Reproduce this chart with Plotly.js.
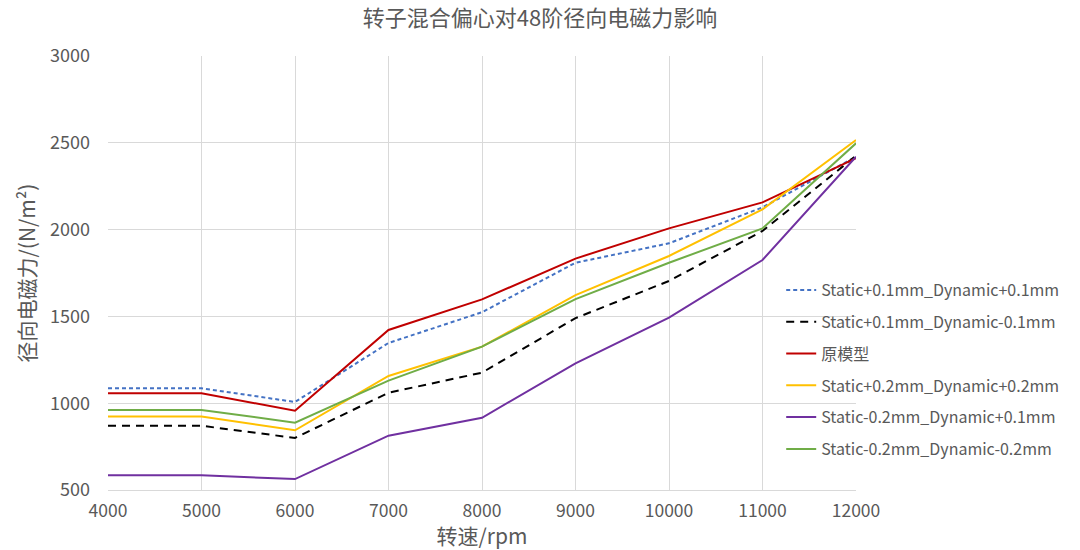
<!DOCTYPE html>
<html>
<head>
<meta charset="utf-8">
<script src="https://cdn.plot.ly/plotly-3.0.1.min.js"></script>
<style>
  html, body { margin: 0; padding: 0; background: #fff; }
  #chart { width: 1080px; height: 550px; }
</style>
</head>
<body>
<div id="chart"></div>
<script>
  const speeds = [4000, 5000, 6000, 7000, 8000, 9000, 10000, 11000, 12000];
  const speedLabels = ['4000', '5000', '6000', '7000', '8000', '9000', '10000', '11000', '12000'];

  const seriesNames = [
    'Static+0.1mm_Dynamic+0.1mm',
    'Static+0.1mm_Dynamic-0.1mm',
    '原模型',
    'Static+0.2mm_Dynamic+0.2mm',
    'Static-0.2mm_Dynamic+0.1mm',
    'Static-0.2mm_Dynamic-0.2mm'
  ];

  const s01d01 = [1086, 1086, 1007, 1347, 1524, 1809, 1921, 2128, 2420];
  const s01dm01 = [870, 870, 800, 1060, 1176, 1490, 1704, 1992, 2425];
  const original = [1057, 1057, 957, 1422, 1598, 1833, 2007, 2157, 2412];
  const s02d02 = [923, 923, 844, 1157, 1326, 1623, 1848, 2117, 2516];
  const sm02d01 = [585, 585, 563, 813, 916, 1230, 1493, 1825, 2420];
  const sm02dm02 = [961, 961, 888, 1130, 1326, 1600, 1809, 2007, 2497];

  const values = [s01d01, s01dm01, original, s02d02, sm02d01, sm02dm02];
  const colors = ['#4472C4', '#000000', '#C00000', '#FFC000', '#7030A0', '#70AD47'];
  const dashes = ['4px,3px', '8px,6px', 'solid', 'solid', 'solid', 'solid'];

  const data = values.map((v, i) => ({
    type: 'scatter',
    mode: 'lines',
    name: seriesNames[i],
    legendgroup: 'g' + i,
    x: speeds,
    y: v,
    line: { color: colors[i], width: 2, dash: dashes[i] }
  }));

  const font = '"Noto Sans CJK SC", sans-serif';

  const layout = {
    width: 1080,
    height: 550,
    margin: { l: 108, r: 224, t: 56, b: 60 },
    paper_bgcolor: '#ffffff',
    plot_bgcolor: '#ffffff',
    font: { family: font, color: '#595959', size: 16 },
    title: {
      text: '转子混合偏心对48阶径向电磁力影响',
      font: { family: font, size: 22, color: '#595959' },
      x: 0.5, xanchor: 'center', y: 0.967, yanchor: 'middle'
    },
    xaxis: {
      range: [4000, 12000],
      tickvals: speeds,
      ticktext: speedLabels,
      ticks: '',
      ticklabelstandoff: 5,
      showgrid: true,
      gridcolor: '#d9d9d9',
      showline: true,
      linecolor: '#d9d9d9',
      zeroline: false,
      tickfont: { size: 17.5, color: '#595959' },
      title: {
        text: '转速/rpm',
        font: { family: font, size: 21, color: '#595959' },
        standoff: 3
      }
    },
    yaxis: {
      range: [500, 3000],
      dtick: 500,
      ticks: '',
      ticklabelstandoff: 17,
      showgrid: true,
      gridcolor: '#d9d9d9',
      showline: false,
      zeroline: false,
      tickfont: { size: 18, color: '#595959' },
      title: {
        text: '径向电磁力/(N/m²)',
        font: { family: font, size: 21, color: '#595959' },
        standoff: 8
      }
    },
    showlegend: true,
    legend: {
      x: 0.9,
      xanchor: 'left',
      y: 0.5,
      yanchor: 'top',
      bgcolor: 'rgba(0,0,0,0)',
      font: { size: 16, color: '#595959' },
      traceorder: 'grouped',
      tracegroupgap: 8,
      itemwidth: 30
    }
  };

  Plotly.newPlot(document.getElementById('chart'), data, layout, {
    displayModeBar: false,
    staticPlot: true
  });
</script>
</body>
</html>
